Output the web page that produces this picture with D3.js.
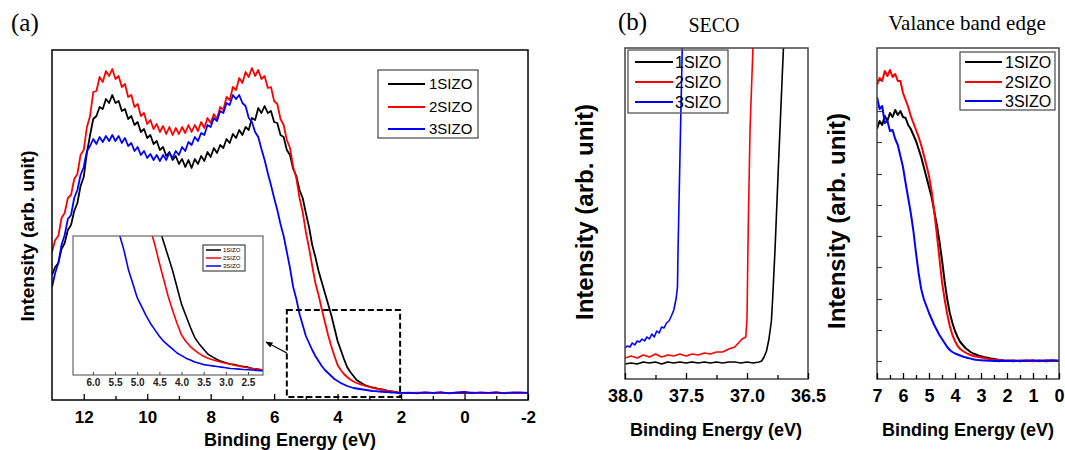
<!DOCTYPE html>
<html>
<head>
<meta charset="utf-8">
<script src="https://cdn.jsdelivr.net/npm/d3@7"></script>
<style>
  html, body { margin: 0; padding: 0; background: #fff; }
  svg { display: block; }
</style>
</head>
<body>
<svg id="fig" width="1065" height="450"></svg>
<script>
// ---------- DATA ----------

const seriesNames  = ["1SIZO", "2SIZO", "3SIZO"];
const seriesColors = ["#000000", "#ff0000", "#0000ff"];

// (a) survey spectrum: 13.0 -> 2.0 eV every 0.1 eV, then 1.75 -> -2.0 every 0.25 eV
const surveyEnergy = d3.range(130, 19, -1).map(v => v / 10)
  .concat(d3.range(175, -201, -25).map(v => v / 100));

const survey1 = [
  118, 126, 130, 144, 150, 163, 168, 182, 190, 207,
  216, 240, 258, 274, 277, 286, 284, 294, 290, 298,
  290, 292, 282, 284, 274, 277, 268, 271, 261, 264,
  255, 258, 249, 252, 243, 246, 237, 241, 233, 237,
  229, 234, 226, 233, 225, 234, 229, 237, 232, 241,
  236, 245, 240, 248, 245, 254, 250, 259, 255, 263,
  258, 266, 263, 275, 273, 285, 280, 287, 280, 282,
  271, 270, 258, 256, 243, 238, 224, 217, 203, 195,
  180, 166, 148, 136, 122, 111, 100, 89, 78, 65,
  52, 43, 34, 26, 21, 17, 13, 11, 9, 7.5,
  6.5, 5.5, 5, 4, 3.5, 3, 2, 1.5, 1, 0.5,
  0.3,
  0.2, 0, 0.3, 0, 0.2, -0.2, 0.1, 0, 0.3, -0.1, 0.2, 0, 0.1, 0.3, 0, 0.2
];

const survey2 = [
  141, 153, 157, 175, 180, 195, 198, 214, 219, 238,
  243, 266, 277, 301, 302, 316, 311, 322, 317, 324,
  314, 317, 306, 309, 296, 298, 286, 289, 277, 280,
  269, 273, 264, 269, 261, 267, 259, 266, 258, 265,
  259, 266, 260, 268, 261, 268, 262, 271, 265, 275,
  270, 279, 274, 286, 283, 296, 293, 306, 303, 315,
  310, 321, 316, 325, 317, 323, 314, 317, 305, 306,
  292, 289, 274, 268, 253, 245, 226, 215, 195, 181,
  161, 145, 127, 110, 98, 84, 71, 58, 47, 37,
  28, 23, 19, 16, 13.5, 11.5, 10, 8.8, 7.8, 6.8,
  6, 5.2, 4.5, 3.8, 3.1, 2.5, 2, 1.5, 1, 0.6,
  0.3,
  0.1, 0.3, 0, 0.2, -0.1, 0.2, 0, 0.3, 0.1, 0, 0.2, -0.1, 0.2, 0, 0.1, 0
];

const survey3 = [
  106, 120, 130, 148, 158, 174, 178, 195, 203, 218,
  226, 242, 247, 254, 249, 256, 251, 257, 252, 258,
  252, 257, 250, 255, 247, 250, 242, 246, 238, 242,
  235, 239, 233, 238, 232, 238, 233, 240, 235, 242,
  238, 246, 242, 251, 248, 256, 252, 260, 258, 268,
  266, 275, 272, 282, 280, 290, 288, 298, 294, 298,
  290, 287, 275, 271, 261, 256, 244, 233, 220, 208,
  195, 183, 169, 157, 141, 125, 106, 94, 79, 68,
  57, 50, 43, 37, 32, 27, 23, 20, 17, 14,
  12, 10, 8.5, 7, 6, 5, 4.5, 4, 3.5, 3,
  2.5, 2, 1.8, 1.5, 1.2, 1, 0.8, 0.5, 0.3, 0.2,
  0.1,
  0.3, -0.4, 0.6, 0, 0.8, -0.3, 0.5, 1.0, -0.2, 0.6, 0.2, 0.9, -0.3, 0.4, 0.7, 0
];

const surveyTicks = [12, 10, 8, 6, 4, 2, 0, -2];
const surveyMinor = [11, 9, 7, 5, 3, 1, -1];
const insetTicks  = [6.0, 5.5, 5.0, 4.5, 4.0, 3.5, 3.0, 2.5];

// (b) SECO: [binding energy, intensity]
const seco1 = [
  [38.00, 15], [37.95, 16], [37.90, 15], [37.85, 17], [37.80, 16], [37.75, 17],
  [37.70, 15], [37.65, 17], [37.60, 16], [37.55, 17], [37.50, 16], [37.45, 17],
  [37.40, 16], [37.35, 17], [37.30, 16], [37.25, 17], [37.20, 16], [37.15, 17],
  [37.10, 17], [37.05, 16], [37.00, 17], [36.95, 16], [36.90, 17], [36.88, 18],
  [36.86, 22], [36.84, 28], [36.82, 40], [36.80, 58], [36.79, 80], [36.78, 105],
  [36.77, 130], [36.74, 220], [36.70, 335]
];
const seco2 = [
  [38.00, 21], [37.95, 23], [37.90, 21], [37.85, 24], [37.80, 22], [37.75, 25],
  [37.70, 22], [37.65, 24], [37.60, 23], [37.55, 25], [37.50, 23], [37.45, 25],
  [37.40, 24], [37.35, 26], [37.30, 25], [37.25, 27], [37.20, 27], [37.15, 30],
  [37.10, 32], [37.07, 36], [37.04, 40], [37.01, 42], [37.00, 60], [36.99, 150],
  [36.975, 250], [36.95, 335]
];
const seco3 = [
  [38.00, 31], [37.98, 33], [37.96, 32], [37.94, 36], [37.92, 34], [37.90, 38],
  [37.88, 37], [37.86, 40], [37.84, 38], [37.82, 42], [37.80, 40], [37.78, 45],
  [37.76, 42], [37.74, 48], [37.72, 46], [37.70, 52], [37.68, 51], [37.66, 56],
  [37.64, 58], [37.62, 63], [37.60, 69], [37.58, 81], [37.57, 92], [37.565, 130],
  [37.55, 220], [37.53, 335]
];
const secoTicks = [38.0, 37.5, 37.0, 36.5];
const secoMinor = [37.75, 37.25, 36.75];

// (b) valence band edge: 7.0 -> 2.0 eV every 0.1 eV, then 1.75 -> 0 every 0.25 eV
const vbeEnergy = d3.range(70, 19, -1).map(v => v / 10)
  .concat(d3.range(175, -1, -25).map(v => v / 100));

const vbe1 = [
  232, 240, 236, 245, 240, 248, 244, 251, 246, 250,
  244, 243, 236, 232, 226, 220, 212, 204, 194, 184,
  174, 164, 150, 136, 120, 101, 80, 62, 48, 38,
  30, 24, 19, 16, 13, 11, 9, 7.5, 6.5, 5.5,
  4.8, 4, 3.5, 3, 2.4, 2, 1.5, 1, 0.7, 0.4,
  0.2,
  0.5, -0.3, 0.4, 0, 0.6, -0.2, 0.3, 0
];
const vbe2 = [
  276, 283, 280, 290, 285, 291, 284, 287, 280, 280,
  268, 261, 254, 245, 238, 231, 224, 216, 206, 196,
  185, 170, 150, 127, 103, 79, 62, 47, 35, 26,
  20, 15, 12, 10, 8.5, 7, 6, 5, 4.5, 4,
  3.5, 3, 2.5, 2, 1.5, 1.2, 1, 0.8, 0.5, 0.3,
  0.2,
  0.3, 0, 0.4, -0.2, 0.2, 0.5, 0, 0.2
];
const vbe3 = [
  264, 252, 255, 238, 240, 230, 231, 222, 216, 205,
  194, 178, 163, 148, 130, 108, 88, 72, 62, 55,
  48, 42, 36, 31, 26, 22, 18, 14, 11, 9,
  7.5, 6.5, 5.5, 4.5, 3.8, 3, 2.4, 1.8, 1.3, 1,
  0.8, 0.6, 0.4, 0.3, 0.2, 0, 0.3, -0.2, 0.2, 0,
  0.3,
  -0.3, 0.5, 0, 0.7, -0.2, 0.4, 0.8, 0.2
];
const vbeTicks = [7, 6, 5, 4, 3, 2, 1, 0];
const vbeMinor = [6.5, 5.5, 4.5, 3.5, 2.5, 1.5, 0.5];
const vbeYTicks = [0, 31, 62, 94, 125, 156, 187, 219, 250, 281];

// ---------- DRAWING ----------

const svg  = d3.select("#fig");
const sans  = '"Liberation Sans", Arial, sans-serif';
const serif = '"Liberation Serif", "Times New Roman", serif';

// plain hyphen for negatives, like the original figure
const intFmt = d => String(d);

function addClip(id, x, y, w, h) {
  svg.append("clipPath").attr("id", id)
    .append("rect").attr("x", x).attr("y", y).attr("width", w).attr("height", h);
}

function drawSeries(seriesList, x, y, clipId, lw) {
  const line = d3.line().x(d => x(d[0])).y(d => y(d[1]));
  const g = svg.append("g").attr("clip-path", `url(#${clipId})`);
  seriesList.forEach((pts, i) => {
    g.append("path")
      .attr("d", line(pts))
      .attr("fill", "none")
      .attr("stroke", seriesColors[i])
      .attr("stroke-width", lw)
      .attr("stroke-linejoin", "round");
  });
}

function bottomAxis(x, yPos, major, minor, fontSize, pad, fmt) {
  const gMaj = svg.append("g")
    .attr("transform", `translate(0,${yPos})`)
    .call(d3.axisBottom(x).tickValues(major).tickSize(-6).tickPadding(pad).tickFormat(fmt));
  gMaj.select(".domain").remove();
  gMaj.selectAll("text")
    .attr("font-family", sans).attr("font-weight", "bold")
    .attr("font-size", fontSize).attr("fill", "#000");
  gMaj.selectAll("line").attr("stroke", "#000").attr("stroke-width", 1.3);

  if (minor) {
    const gMin = svg.append("g")
      .attr("transform", `translate(0,${yPos})`)
      .call(d3.axisBottom(x).tickValues(minor).tickSize(-4).tickFormat(""));
    gMin.select(".domain").remove();
    gMin.selectAll("line").attr("stroke", "#000").attr("stroke-width", 1.3);
  }
}

function frame(x, y, w, h, color, sw) {
  svg.append("rect")
    .attr("x", x).attr("y", y).attr("width", w).attr("height", h)
    .attr("fill", "none").attr("stroke", color).attr("stroke-width", sw);
}

function legend(x0, y0, w, h, lineX1, lineX2, textX, rowYs, fontSize, lw) {
  frame(x0, y0, w, h, "#555", 1.3);
  seriesNames.forEach((name, i) => {
    svg.append("line")
      .attr("x1", lineX1).attr("x2", lineX2)
      .attr("y1", rowYs[i]).attr("y2", rowYs[i])
      .attr("stroke", seriesColors[i]).attr("stroke-width", lw);
    svg.append("text")
      .attr("x", textX).attr("y", rowYs[i]).attr("dy", "0.36em")
      .attr("font-family", sans).attr("font-size", fontSize)
      .text(name);
  });
}

function yTitle(xBase, yc, size, label) {
  svg.append("text")
    .attr("transform", `translate(${xBase},${yc}) rotate(-90)`)
    .attr("text-anchor", "middle")
    .attr("font-family", sans).attr("font-weight", "bold").attr("font-size", size)
    .text(label);
}

function xTitle(xc, yBase, label) {
  svg.append("text")
    .attr("x", xc).attr("y", yBase)
    .attr("text-anchor", "middle")
    .attr("font-family", sans).attr("font-weight", "bold").attr("font-size", 18)
    .text(label);
}

// ===== (a) survey =====
const xA = d3.scaleLinear().domain([13, -2]).range([52, 528]);
const yA = d3.scaleLinear().domain([-7, 343]).range([400, 50]);

addClip("clipA", 52, 50, 476, 350);
const surveyPts = [survey1, survey2, survey3].map(s => d3.zip(surveyEnergy, s));
drawSeries(surveyPts, xA, yA, "clipA", 1.8);

frame(52, 50, 476, 350, "#000", 1.5);
bottomAxis(xA, 400, surveyTicks, surveyMinor, 17, 11, intFmt);

legend(378, 70, 100, 68, 388, 425, 429, [84, 107, 129], 15, 2.2);

xTitle(290, 446, "Binding Energy (eV)");
yTitle(34, 236, 19, "Intensity (arb. unit)");

svg.append("text").attr("x", 11).attr("y", 31)
  .attr("font-family", serif).attr("font-size", 25).text("(a)");

// dashed zoom box and arrow
svg.append("rect")
  .attr("x", xA(5.6)).attr("y", yA(83))
  .attr("width", xA(2.03) - xA(5.6)).attr("height", yA(-4) - yA(83))
  .attr("fill", "none").attr("stroke", "#000").attr("stroke-width", 2)
  .attr("stroke-dasharray", "6,3");

svg.append("defs").append("marker")
  .attr("id", "arrowHead").attr("viewBox", "0 0 10 10")
  .attr("refX", 9).attr("refY", 5)
  .attr("markerWidth", 6).attr("markerHeight", 6)
  .attr("orient", "auto")
  .append("path").attr("d", "M0,1 L10,5 L0,9 z").attr("fill", "#000");

svg.append("line")
  .attr("x1", xA(5.6)).attr("y1", yA(40))
  .attr("x2", 266).attr("y2", 342)
  .attr("stroke", "#000").attr("stroke-width", 1.2)
  .attr("marker-end", "url(#arrowHead)");

// inset
const xI = d3.scaleLinear().domain([6.45, 2.16]).range([73, 263]);
const yI = d3.scaleLinear().domain([-3.1, 105]).range([375, 236]);

svg.append("rect").attr("x", 73).attr("y", 236).attr("width", 190).attr("height", 139)
  .attr("fill", "#fff");
addClip("clipI", 73, 236, 190, 139);
drawSeries(surveyPts, xI, yI, "clipI", 1.6);
frame(73, 236, 190, 139, "#666", 1.2);

const gIn = svg.append("g")
  .attr("transform", "translate(0,375)")
  .call(d3.axisBottom(xI).tickValues(insetTicks).tickSize(-3).tickPadding(4).tickFormat(d3.format(".1f")));
gIn.select(".domain").remove();
gIn.selectAll("text").attr("font-family", sans).attr("font-weight", "bold")
  .attr("font-size", 10).attr("fill", "#222");
gIn.selectAll("line").attr("stroke", "#444");

legend(203, 245, 42, 26, 206, 221, 223, [250, 258, 266], 6, 1.5);

// ===== (b) SECO =====
const xS = d3.scaleLinear().domain([38.0, 36.5]).range([625, 808]);
const yS = d3.scaleLinear().domain([0, 331]).range([379, 48]);

addClip("clipS", 625, 48, 183, 331);
drawSeries([seco1, seco2, seco3], xS, yS, "clipS", 1.6);
frame(625, 48, 183, 331, "#444", 1.5);
bottomAxis(xS, 379, secoTicks, secoMinor, 18, 10, d3.format(".1f"));

legend(628, 50, 100, 63, 635, 673, 675, [62, 82, 102], 16, 2.2);

xTitle(716, 436, "Binding Energy (eV)");
yTitle(593, 212, 24, "Intensity (arb. unit)");

svg.append("text").attr("x", 618).attr("y", 30)
  .attr("font-family", serif).attr("font-size", 25).text("(b)");
svg.append("text").attr("x", 714).attr("y", 32).attr("text-anchor", "middle")
  .attr("font-family", serif).attr("font-size", 20).text("SECO");

// ===== (b) valence band edge =====
const xV = d3.scaleLinear().domain([7, 0]).range([877, 1059]);
const yV = d3.scaleLinear().domain([-18, 313]).range([379, 48]);

addClip("clipV", 877, 48, 182, 331);
const vbePts = [vbe1, vbe2, vbe3].map(s => d3.zip(vbeEnergy, s));
drawSeries(vbePts, xV, yV, "clipV", 2);
frame(877, 48, 182, 331, "#444", 1.5);
bottomAxis(xV, 379, vbeTicks, vbeMinor, 18, 10, intFmt);

const gVy = svg.append("g")
  .attr("transform", "translate(877,0)")
  .call(d3.axisLeft(yV).tickValues(vbeYTicks).tickSize(-5).tickFormat(""));
gVy.select(".domain").remove();
gVy.selectAll("line").attr("stroke", "#444").attr("stroke-width", 1.2);

legend(960, 52, 95, 58, 965, 1002, 1005, [62, 82, 101], 16, 2.2);

xTitle(968, 436, "Binding Energy (eV)");
yTitle(845, 221, 24, "Intensity (arb. unit)");

svg.append("text").attr("x", 967).attr("y", 30).attr("text-anchor", "middle")
  .attr("font-family", serif).attr("font-size", 21).text("Valance band edge");
</script>
</body>
</html>
